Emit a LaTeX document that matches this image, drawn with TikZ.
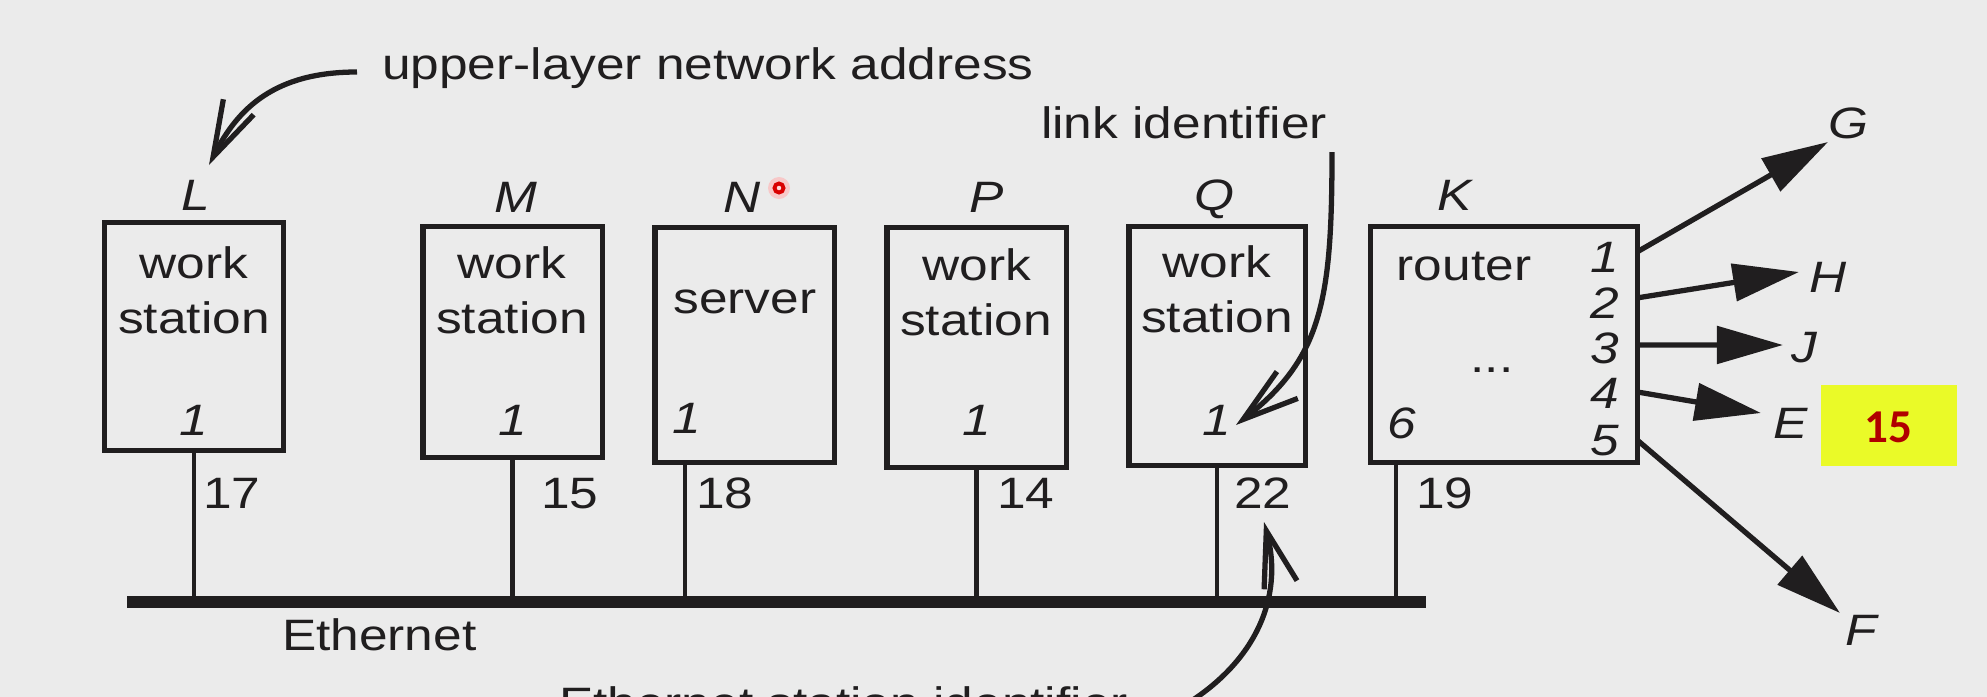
\documentclass[tikz,border=0pt]{standalone}
\usepackage{fontspec}
\setmainfont{Liberation Sans}[FakeStretch=1.17]
\newfontfamily\calib{Carlito}
\usetikzlibrary{arrows.meta}
\definecolor{bg}{RGB}{235,235,235}
\definecolor{ink}{RGB}{32,30,31}
\definecolor{hl}{RGB}{234,250,40}
\definecolor{dred}{RGB}{176,0,0}
\begin{document}
\begin{tikzpicture}[x=0.01cm,y=-0.01cm,
  every node/.style={inner sep=0pt,outer sep=0pt,text=ink,font=\fontsize{12.5}{15}\selectfont},
  box/.style={draw=ink,line width=1.45pt},
  txt/.style={anchor=base},
  itx/.style={anchor=base,font=\fontsize{12.5}{15}\selectfont\itshape},
  stub/.style={draw=ink,line width=1.15pt},
  barb/.style={draw=ink,line width=1.5pt,-{Straight Barb[length=0.56cm,width=0.34cm,line width=1.5pt]}},
  tri/.style={draw=ink,line width=1.5pt,-{Triangle[length=0.66cm,width=0.37cm]}}]
\useasboundingbox (0,0) rectangle (1987,697);
\fill[bg] (0,0) rectangle (1987,697);
\clip (0,0) rectangle (1987,697);

% boxes
\node[box,minimum width=1.78cm,minimum height=2.27cm] (L) at (194,336.5) {};
\node[box,minimum width=1.79cm,minimum height=2.30cm] (M) at (512.5,342) {};
\node[box,minimum width=1.79cm,minimum height=2.34cm] (N) at (744.5,345) {};
\node[box,minimum width=1.79cm,minimum height=2.39cm] (P) at (976.5,347.5) {};
\node[box,minimum width=1.76cm,minimum height=2.38cm] (Q) at (1217,346) {};
\node[box,minimum width=2.66cm,minimum height=2.35cm] (K) at (1504,344.5) {};

% names
\node[itx] (nL) at (196,210) {L};
\node[itx] (nM) at (516,212) {M};
\node[itx] (nN) at (742,212) {N};
\node[itx] (nP) at (987,212) {P};
\node[itx] (nQ) at (1214,210) {Q};
\node[itx] (nK) at (1455,210) {K};

% box texts
\node[txt] (L1) at (194,278) {work};
\node[txt] (L2) at (194,333) {station};
\node[txt] (M1) at (512,278) {work};
\node[txt] (M2) at (512,333) {station};
\node[txt] (N1) at (745,313) {server};
\node[txt] (P1) at (977,280) {work};
\node[txt] (P2) at (976,335) {station};
\node[txt] (Q1) at (1217,277) {work};
\node[txt] (Q2) at (1217,332) {station};
\node[txt] (K1) at (1464,280) {router};
\node[txt] (K2) at (1492,372) {...};

% link numbers
\node[itx] (iL) at (194,435) {1};
\node[itx] (iM) at (513,435) {1};
\node[itx] (iN) at (687,433) {1};
\node[itx] (iP) at (977,435) {1};
\node[itx] (iQ) at (1217,435) {1};
\node[itx] (iK6) at (1402,438) {6};
\node[itx] (k1) at (1605,272) {1};
\node[itx] (k2) at (1605,318) {2};
\node[itx] (k3) at (1605,363) {3};
\node[itx] (k4) at (1605,408) {4};
\node[itx] (k5) at (1605,455) {5};

% ethernet
\coordinate (eth1) at (127,602);
\coordinate (eth2) at (1426,602);
\draw[ink,line width=3.2pt] (eth1) -- (eth2);
\path (N.south west) ++(30,0) coordinate (Nport);
\path (K.south west) ++(25,0) coordinate (Kport);
\draw[stub] (L.south) -- (L.south |- eth1);
\draw[stub] (M.south) -- (M.south |- eth1);
\draw[stub] (Nport) -- (Nport |- eth1);
\draw[stub] (P.south) -- (P.south |- eth1);
\draw[stub] (Q.south) -- (Q.south |- eth1);
\draw[stub] (Kport) -- (Kport |- eth1);

% station ids
\node[txt,anchor=base west] (s17) at (203,508) {17};
\node[txt,anchor=base west] (s15) at (541,508) {15};
\node[txt,anchor=base west] (s18) at (696,508) {18};
\node[txt,anchor=base west] (s14) at (997,508) {14};
\node[txt,anchor=base west] (s22) at (1234,508) {22};
\node[txt,anchor=base west] (s19) at (1416,508) {19};

\node[txt,anchor=base west] (eth) at (282,650) {Ethernet};

% router links
\path (K.north east) ++(0,25) coordinate (p1);
\path (K.north east) ++(0,71) coordinate (p2);
\path (K.north east) ++(0,118) coordinate (p3);
\path (K.north east) ++(0,165) coordinate (p4);
\path (K.north east) ++(0,213) coordinate (p5);
\coordinate (tG) at (1828,142);
\coordinate (tH) at (1799,272);
\coordinate (tJ) at (1783,345);
\coordinate (tE) at (1761,413);
\coordinate (tF) at (1840,613);
\draw[tri] (p1) -- (tG);
\draw[tri] (p2) -- (tH);
\draw[tri] (p3) -- (tJ);
\draw[tri] (p4) -- (tE);
\draw[tri] (p5) -- (tF);
\node[itx] (G) at (1848,138) {G};
\node[itx] (H) at (1828,292) {H};
\node[itx] (J) at (1804,362) {J};
\node[itx] (E) at (1791,438) {E};
\node[itx] (F) at (1861,645) {F};

% highlight
\node[fill=hl,minimum width=1.36cm,minimum height=0.81cm] (hlbox) at (1889,425.5) {};
\node[anchor=base,text=dred,font={\fontsize{13.4}{16}\calib\bfseries}] (hlt) at (1888,442) {15};

% annotations
\node[txt,anchor=base west] (ula) at (382,80) {upper-layer network address};
\node[txt,anchor=base west] (lid) at (1041,138) {link identifier};
\node[txt,anchor=base west] (esi) at (559,718) {Ethernet station identifier};
\coordinate (ua0) at (357,72);
\coordinate (ua1) at (209,165);
\draw[barb] (ua0) .. controls (275,72) and (238,108) .. (ua1);
\coordinate (li0) at (1332,152);
\coordinate (li1) at (1236,425);
\draw[barb] (li0) .. controls (1332,300) and (1322,358) .. (li1);
\coordinate (es0) at (1185,705);
\coordinate (es1) at (1264,522);
\draw[barb] (es0) .. controls (1255,662) and (1284,598) .. (es1);

% pointer dot
\fill[red!30,opacity=0.6] (779,188) circle (0.11cm);
\draw[red!85!black,line width=1.1pt,fill=red!15] (779,188) circle (0.045cm);
\end{tikzpicture}
\end{document}
